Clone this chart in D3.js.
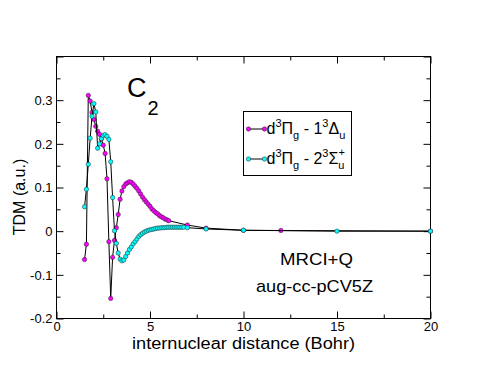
<!DOCTYPE html>
<html>
<head>
<meta charset="utf-8">
<script src="https://cdn.jsdelivr.net/npm/d3@7"></script>
<style>
  body { margin: 0; background: #fff; }
  text { font-family: "Liberation Sans", Arial, sans-serif; fill: #000; }
</style>
</head>
<body>
<div id="chart"></div>
<script>
// TDM of C2, two transitions

var xMagenta = [1.5, 1.6, 1.7, 1.8, 1.9, 2.0, 2.1, 2.2, 2.3, 2.4, 2.5, 2.6, 2.7, 2.8, 2.9,
  3.0, 3.1, 3.2, 3.3, 3.4, 3.5, 3.6, 3.7, 3.8, 3.9, 4.0, 4.1, 4.2, 4.3, 4.4, 4.5,
  4.6, 4.7, 4.8, 4.9, 5.0, 5.1, 5.2, 5.3, 5.4, 5.5, 5.6, 5.7, 5.8, 5.9, 6.0,
  7.0, 8.0, 10.0, 12.0, 20.0];
var yMagenta = [-0.065, -0.030, 0.311, 0.298, 0.272, 0.256, 0.240, 0.229, 0.222, 0.211, 0.197, 0.178, 0.120, -0.024, -0.154,
  -0.060, -0.021, 0.008, 0.038, 0.073, 0.092, 0.102, 0.108, 0.111, 0.113, 0.112, 0.108, 0.103, 0.098, 0.092, 0.085,
  0.078, 0.072, 0.067, 0.062, 0.057, 0.051, 0.047, 0.043, 0.040, 0.036, 0.033, 0.031, 0.028, 0.026, 0.024,
  0.014, 0.007, 0.002, 0.0015, 0.0];

var xCyan = [1.5, 1.6, 1.7, 1.8, 1.9, 2.0, 2.1, 2.2, 2.3, 2.4, 2.5, 2.6, 2.7, 2.8, 2.9,
  3.0, 3.1, 3.2, 3.3, 3.4, 3.5, 3.6, 3.7, 3.8, 3.9, 4.0, 4.1, 4.2, 4.3, 4.4, 4.5,
  4.6, 4.7, 4.8, 4.9, 5.0, 5.1, 5.2, 5.3, 5.4, 5.5, 5.6, 5.7, 5.8, 5.9, 6.0,
  6.1, 6.2, 6.3, 6.4, 6.5, 6.6, 6.7, 6.8, 7.0, 8.0, 10.0, 15.0, 20.0];
var yCyan = [0.056, 0.096, 0.153, 0.213, 0.263, 0.292, 0.273, 0.190, 0.200, 0.212, 0.219, 0.221, 0.217, 0.210, 0.159,
  0.077, 0.001, -0.028, -0.050, -0.064, -0.068, -0.066, -0.058, -0.050, -0.042, -0.036, -0.029, -0.024, -0.018, -0.012, -0.008,
  -0.005, -0.002, 0.000, 0.002, 0.003, 0.004, 0.005, 0.006, 0.007, 0.007, 0.008, 0.008, 0.008, 0.009, 0.009,
  0.009, 0.009, 0.009, 0.009, 0.009, 0.009, 0.009, 0.009, 0.008, 0.005, 0.002, 0.0, 0.0];

var xTicks = [0, 5, 10, 15, 20];
var xTickLabels = ["0", "5", "10", "15", "20"];
var xMinorTicks = [2.5, 7.5, 12.5, 17.5];
var yTicks = [-0.2, -0.1, 0, 0.1, 0.2, 0.3, 0.4];
var yTickLabels = ["-0.2", "-0.1", "0", "0.1", "0.2", "0.3", ""];
var yMinorTicks = [-0.15, -0.05, 0.05, 0.15, 0.25, 0.35];

(function() {
  var margin = { top: 56.5, left: 56.5, right: 54.5, bottom: 56.5 },
    width = 485 - margin.left - margin.right,
    height = 375 - margin.top - margin.bottom;

  var root = d3.select("#chart")
    .append("svg")
    .attr("width", 485)
    .attr("height", 375);

  var svg = root.append("g")
    .attr("transform", "translate(" + margin.left + "," + margin.top + ")");

  var xPositionScale = d3.scaleLinear().domain([0, 20]).range([0, width]);
  var yPositionScale = d3.scaleLinear().domain([-0.2, 0.4]).range([height, 0]);

  // axes, ticks point inward like xmgrace
  function styleAxis(g) {
    g.select(".domain").remove();
    g.selectAll(".tick line").attr("stroke", "#000");
    g.selectAll(".tick text").attr("font-size", 13).attr("fill", "#000")
      .attr("font-family", '"Liberation Sans", Arial, sans-serif');
  }

  svg.append("g")
    .attr("transform", "translate(0," + height + ")")
    .call(d3.axisBottom(xPositionScale).tickValues(xTicks)
      .tickFormat(function(d, i) { return xTickLabels[i]; })
      .tickSizeInner(-7).tickSizeOuter(0).tickPadding(3))
    .call(styleAxis);
  svg.append("g")
    .attr("transform", "translate(0," + height + ")")
    .call(d3.axisBottom(xPositionScale).tickValues(xMinorTicks).tickFormat("")
      .tickSizeInner(-4).tickSizeOuter(0))
    .call(styleAxis);
  svg.append("g")
    .call(d3.axisTop(xPositionScale).tickValues(xTicks).tickFormat("")
      .tickSizeInner(-7).tickSizeOuter(0))
    .call(styleAxis);
  svg.append("g")
    .call(d3.axisTop(xPositionScale).tickValues(xMinorTicks).tickFormat("")
      .tickSizeInner(-4).tickSizeOuter(0))
    .call(styleAxis);

  svg.append("g")
    .call(d3.axisLeft(yPositionScale).tickValues(yTicks)
      .tickFormat(function(d, i) { return yTickLabels[i]; })
      .tickSizeInner(-7).tickSizeOuter(0).tickPadding(4))
    .call(styleAxis);
  svg.append("g")
    .call(d3.axisLeft(yPositionScale).tickValues(yMinorTicks).tickFormat("")
      .tickSizeInner(-4).tickSizeOuter(0))
    .call(styleAxis);
  svg.append("g")
    .attr("transform", "translate(" + width + ",0)")
    .call(d3.axisRight(yPositionScale).tickValues(yTicks).tickFormat("")
      .tickSizeInner(-7).tickSizeOuter(0))
    .call(styleAxis);
  svg.append("g")
    .attr("transform", "translate(" + width + ",0)")
    .call(d3.axisRight(yPositionScale).tickValues(yMinorTicks).tickFormat("")
      .tickSizeInner(-4).tickSizeOuter(0))
    .call(styleAxis);

  svg.append("rect")
    .attr("width", width)
    .attr("height", height)
    .attr("fill", "none")
    .attr("stroke", "#000");

  // series
  var line = d3.line()
    .x(function(d) { return xPositionScale(d.x); })
    .y(function(d) { return yPositionScale(d.y); });

  var series = [
    { xs: xMagenta, ys: yMagenta, color: "#ff00ff" },
    { xs: xCyan, ys: yCyan, color: "#00ffff" }
  ];

  series.forEach(function(s) {
    var points = s.xs.map(function(x, i) { return { x: x, y: s.ys[i] }; });
    svg.append("path")
      .datum(points)
      .attr("d", line)
      .attr("fill", "none")
      .attr("stroke", "#000")
      .attr("stroke-width", 1);
    svg.append("g").selectAll("circle")
      .data(points)
      .enter().append("circle")
      .attr("cx", function(d) { return xPositionScale(d.x); })
      .attr("cy", function(d) { return yPositionScale(d.y); })
      .attr("r", 2.2)
      .attr("fill", s.color)
      .attr("stroke", "#222")
      .attr("stroke-width", 0.5);
  });

  // axis titles
  root.append("text")
    .attr("x", 132)
    .attr("y", 349)
    .attr("font-size", 16)
    .attr("textLength", 223)
    .attr("lengthAdjust", "spacingAndGlyphs")
    .text("internuclear distance (Bohr)");

  root.append("text")
    .attr("transform", "translate(25,197) rotate(-90)")
    .attr("text-anchor", "middle")
    .attr("font-size", 16)
    .text("TDM (a.u.)");

  // C2 label
  var c2 = root.append("text")
    .attr("x", 127)
    .attr("y", 97)
    .attr("font-size", 27);
  c2.append("tspan").text("C");
  c2.append("tspan").attr("font-size", 20).attr("dx", 1).attr("dy", 18).text("2");

  root.append("text")
    .attr("x", 280)
    .attr("y", 265)
    .attr("font-size", 17)
    .attr("textLength", 73)
    .attr("lengthAdjust", "spacingAndGlyphs")
    .text("MRCI+Q");
  root.append("text")
    .attr("x", 256)
    .attr("y", 292)
    .attr("font-size", 17)
    .attr("textLength", 117)
    .attr("lengthAdjust", "spacingAndGlyphs")
    .text("aug-cc-pCV5Z");

  // legend
  var legend = root.append("g");
  legend.append("rect")
    .attr("x", 243.5)
    .attr("y", 111.5)
    .attr("width", 108)
    .attr("height", 64)
    .attr("fill", "#fff")
    .attr("stroke", "#000");

  var legendRows = [
    { y: 129, color: "#ff00ff", upper: "1", sym: "\u0394", sub: "u", sup: "" },
    { y: 159, color: "#00ffff", upper: "2", sym: "\u03a3", sub: "u", sup: "+" }
  ];

  legendRows.forEach(function(r) {
    legend.append("line")
      .attr("x1", 248.5).attr("x2", 264.5)
      .attr("y1", r.y).attr("y2", r.y)
      .attr("stroke", "#000");
    [248.5, 264.5].forEach(function(cx) {
      legend.append("circle")
        .attr("cx", cx).attr("cy", r.y).attr("r", 2.2)
        .attr("fill", r.color).attr("stroke", "#222").attr("stroke-width", 0.5);
    });
    var t = legend.append("text")
      .attr("x", 266.5)
      .attr("y", r.y + 5)
      .attr("font-size", 16);
    t.append("tspan").text("d");
    t.append("tspan").attr("font-size", 11).attr("dy", -7).text("3");
    t.append("tspan").attr("dy", 7).text("\u03a0");
    t.append("tspan").attr("font-size", 11).attr("dy", 5).text("g");
    t.append("tspan").attr("dy", -5).text(" - " + r.upper);
    t.append("tspan").attr("font-size", 11).attr("dy", -7).text("3");
    t.append("tspan").attr("dy", 7).text(r.sym);
    t.append("tspan").attr("font-size", 11).attr("dy", 5).text(r.sub);
    if (r.sup) {
      t.append("tspan").attr("font-size", 11).attr("dx", -6).attr("dy", -13).text(r.sup);
    }
  });
})();
</script>
</body>
</html>
